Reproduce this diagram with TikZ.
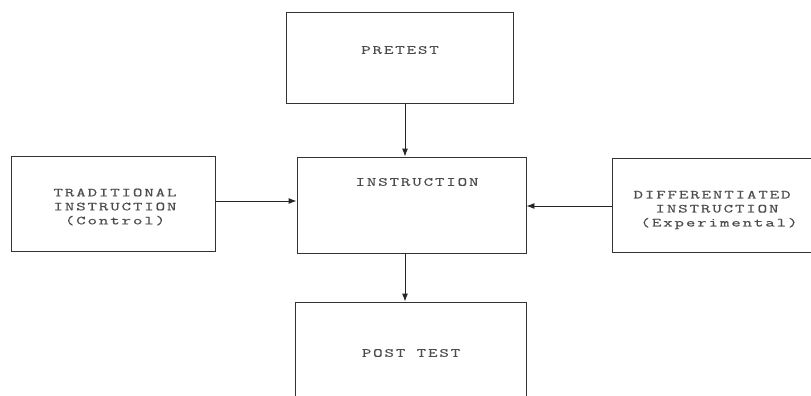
\documentclass[tikz,border=0pt]{standalone}
\usepackage{fontspec}
\setmonofont[FakeStretch=1.5,LetterSpace=15,FakeBold=0.6]{Latin Modern Mono}
\usetikzlibrary{arrows.meta,calc}
\begin{document}
\begin{tikzpicture}[x=1pt,y=-1pt,
  box/.style={draw=black!80,line width=0.9pt,inner sep=0pt,fill=none},
  lbl/.style={font=\ttfamily\fontsize{12.3}{14}\selectfont,text=black!70,align=center,inner sep=0pt},
  arr/.style={draw=black!85,line width=0.9pt,-{Latex[length=8pt,width=6pt]}}]
\useasboundingbox (0,0) rectangle (811,396);
\begin{scope}
\clip (0,0) rectangle (811,396);
\node[box,minimum width=227pt,minimum height=91pt] (pre) at (399.5,57.5) {};
\node[box,minimum width=229pt,minimum height=96pt] (ins) at (411.5,205) {};
\node[box,minimum width=204pt,minimum height=95pt] (trad) at (113,203.5) {};
\node[box,minimum width=218pt,minimum height=94pt] (diff) at (721,205) {};
\node[box,minimum width=231pt,minimum height=118pt] (post) at (410.5,361) {};
\end{scope}
\node[lbl] (pret) at (400,50) {PRETEST};
\node[lbl] (inst) at (417,182) {INSTRUCTION};
\node[lbl] (tradt) at (115,207) {TRADITIONAL\\INSTRUCTION\\(Control)};
\node[lbl] (difft) at (712,210) {DIFFERENTIATED\\\hspace*{10pt}INSTRUCTION\\\hspace*{14pt}(Experimental)};
\node[lbl] (postt) at (411,353) {POST TEST};
\coordinate (cx) at (405,0);
\coordinate (cy1) at (0,201);
\coordinate (cy2) at (0,206);
\draw[arr] (pre.south -| cx) -- (ins.north -| cx);
\draw[arr] (ins.south -| cx) -- (post.north -| cx);
\draw[arr] (trad.east |- cy1) -- (ins.west |- cy1);
\draw[arr] (diff.west |- cy2) -- (ins.east |- cy2);
\end{tikzpicture}
\end{document}
